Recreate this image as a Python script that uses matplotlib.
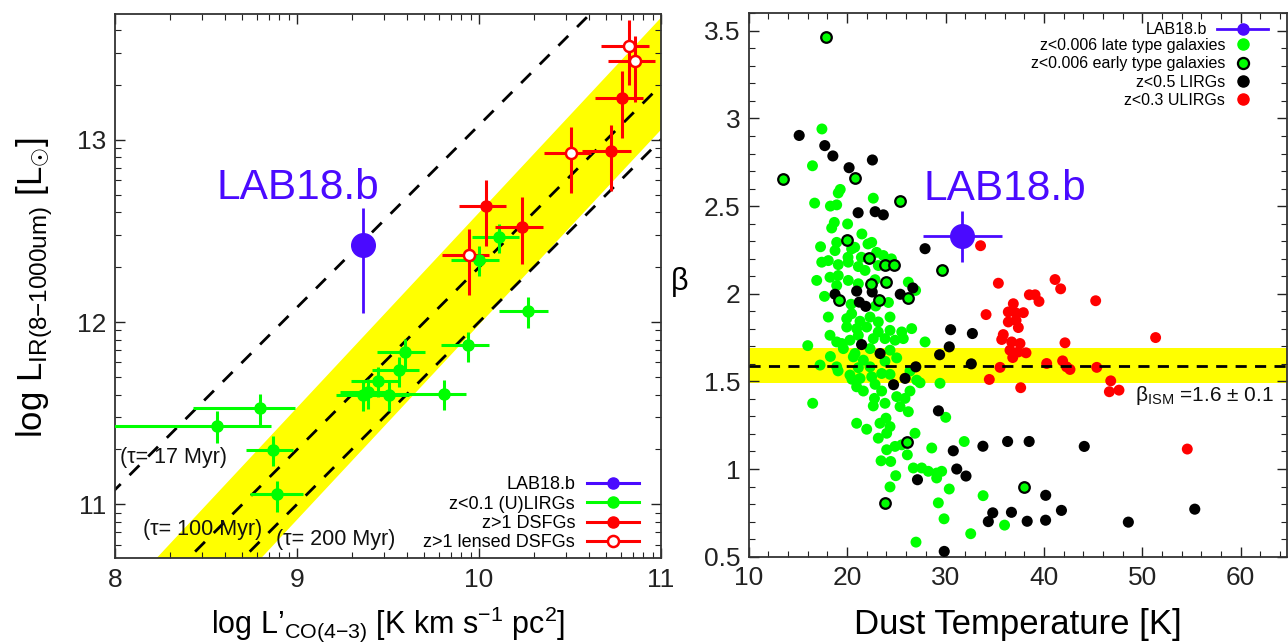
import numpy as np
import matplotlib
matplotlib.use('Agg')
import matplotlib.pyplot as plt
from matplotlib.lines import Line2D
from matplotlib.ticker import FixedLocator, MultipleLocator

plt.rcParams['font.family'] = ['Liberation Sans', 'DejaVu Sans']
plt.rcParams['mathtext.fontset'] = 'custom'
plt.rcParams['mathtext.rm'] = 'Liberation Sans'
plt.rcParams['mathtext.it'] = 'Liberation Sans:italic'
plt.rcParams['mathtext.bf'] = 'Liberation Sans:bold'
plt.rcParams['mathtext.sf'] = 'Liberation Sans'

GREEN = '#00FF00'
RED = '#FF0000'
BLUE = '#4A0AFF'
YELLOW = '#FFFF00'

# ---------------- left panel data ----------------
# LAB18.b
lab_lco = [9.363]
lab_lir = [12.424]
lab_lir_lo = [0.374]
lab_lir_hi = [0.203]

# z<0.1 (U)LIRGs
lirg_lco = [10.112, 9.998, 10.269, 9.939, 9.591, 9.563, 9.445, 9.388, 9.363, 9.506, 9.807, 8.794, 8.560, 8.869, 8.889]
lirg_lir = [12.466, 12.338, 12.062, 11.875, 11.833, 11.735, 11.678, 11.614, 11.601, 11.601, 11.605, 11.530, 11.431, 11.300, 11.058]
lirg_xlo = [0.15, 0.15, 0.157, 0.148, 0.15, 0.149, 0.15, 0.15, 0.15, 0.15, 0.32, 0.367, 0.60, 0.151, 0.15]
lirg_xhi = [0.11, 0.114, 0.108, 0.116, 0.114, 0.11, 0.11, 0.11, 0.11, 0.11, 0.12, 0.193, 0.295, 0.108, 0.145]
lirg_ylo = [0.088, 0.088, 0.095, 0.095, 0.095, 0.09, 0.09, 0.09, 0.09, 0.09, 0.09, 0.093, 0.094, 0.092, 0.102]
lirg_yhi = [0.073, 0.077, 0.073, 0.073, 0.075, 0.075, 0.075, 0.075, 0.075, 0.075, 0.075, 0.077, 0.079, 0.076, 0.068]

# z>1 DSFGs
dsfg_lco = [10.788, 10.723, 10.041, 10.238]
dsfg_lir = [13.229, 12.941, 12.634, 12.524]
dsfg_xlo = [0.153, 0.159, 0.153, 0.152]
dsfg_xhi = [0.112, 0.110, 0.110, 0.112]
dsfg_ylo = [0.220, 0.220, 0.219, 0.204]
dsfg_yhi = [0.146, 0.140, 0.143, 0.162]

# z>1 lensed DSFGs
lens_lco = [10.825, 10.859, 10.507, 9.947]
lens_lir = [13.517, 13.430, 12.927, 12.369]
lens_xlo = [0.155, 0.150, 0.150, 0.153]
lens_xhi = [0.110, 0.110, 0.110, 0.110]
lens_ylo = [0.215, 0.220, 0.219, 0.219]
lens_yhi = [0.141, 0.137, 0.143, 0.143]

# depletion-time lines  (log LIR = log L'CO + c)
tau_labels = ['(τ= 17 Myr)', '(τ= 100 Myr)', '(τ= 200 Myr)']
tau_offsets = [3.08, 2.30, 2.00]
# yellow band: log LIR = slope * log L'CO + [lo, hi]
band_slope = 1.07
band_lo = 1.285
band_hi = 1.90

# ---------------- right panel data ----------------
lab_td = [31.72]
lab_beta = [2.327]
lab_td_err = [4.04]
lab_beta_err = [0.147]

late_td = [17.44, 16.48, 19.3, 19.1, 16.7, 18.3, 18.94, 22.66, 18.7, 20.05, 18.43, 21.5, 17.3,
           18.94, 18.77, 20.46, 22.5, 23.0, 23.68, 24.5, 17.42, 18.09, 19.1, 20.12, 21.14, 21.82,
           23.17, 16.91, 18.26, 19.1, 18.94, 20.12, 21.14, 22.84, 26.22, 26.96, 17.7, 20.4, 22.9,
           24.2, 18.09, 19.96, 20.46, 21.31, 22.33, 23.17, 24.36, 19.96, 20.97, 21.99, 23.17, 24.36,
           25.55, 26.56, 18.26, 18.94, 20.29, 21.14, 22.66, 23.85, 24.87, 25.71, 16.0, 19.45, 19.62,
           20.8, 22.33, 24.36, 27.92, 18.3, 17.25, 18.94, 19.08, 20.63, 21.65, 21.14, 22.33, 23.85,
           25.04, 20.29, 20.49, 21.31, 22.5, 23.51, 24.36, 26.39, 20.97, 21.65, 22.84, 23.51, 27.41,
           26.39, 27.07, 29.44, 16.5, 22.78, 22.66, 23.85, 25.04, 25.88, 25.38, 26.22, 30.02, 20.97,
           21.99, 23.34, 23.95, 24.36, 23.17, 24.02, 26.9, 24.02, 24.87, 25.55, 28.6, 31.9, 23.45,
           24.43, 26.12, 26.73, 27.58, 28.25, 29.1, 29.61, 29.1, 24.94, 24.36, 30.38, 33.82, 29.27,
           29.85, 27.0, 36.0, 32.56, 20.77, 22.12, 20.09, 21.45]
late_beta = [2.94, 2.73, 2.595, 2.575, 2.517, 2.50, 2.507, 2.545, 2.407, 2.398, 2.375, 2.341, 2.268,
             2.293, 2.246, 2.256, 2.293, 2.236, 2.218, 2.199, 2.18, 2.189, 2.166, 2.18, 2.155, 2.133,
             2.161, 2.076, 2.094, 2.104, 2.047, 2.076, 2.057, 2.08, 2.066, 2.019, 1.985, 1.94, 1.93,
             1.95, 1.867, 1.858, 1.886, 1.843, 1.867, 1.839, 1.867, 1.81, 1.801, 1.81, 1.782, 1.791,
             1.782, 1.801, 1.763, 1.725, 1.735, 1.763, 1.744, 1.744, 1.735, 1.744, 1.704, 1.716, 1.687,
             1.659, 1.687, 1.678, 1.725, 1.642, 1.593, 1.583, 1.56, 1.64, 1.621, 1.578, 1.583, 1.615,
             1.634, 1.536, 1.512, 1.517, 1.526, 1.545, 1.54, 1.559, 1.469, 1.445, 1.483, 1.445, 1.492,
             1.445, 1.507, 1.489, 1.375, 1.403, 1.36, 1.375, 1.413, 1.403, 1.356, 1.327, 1.295, 1.261,
             1.227, 1.261, 1.29, 1.242, 1.176, 1.204, 1.204, 1.11, 1.129, 1.138, 1.12, 1.157, 1.047,
             1.043, 1.081, 1.006, 1.006, 0.987, 0.977, 0.987, 0.949, 0.962, 0.898, 0.886, 0.848, 0.807,
             0.716, 0.583, 0.68, 0.631, 2.265, 2.284, 2.208, 2.208]

early_td = [17.9, 13.5, 20.8, 25.4, 19.96, 22.2, 23.9, 24.75, 29.6, 22.45, 23.95, 19.2, 23.27, 26.15,
            26.05, 23.88, 38.0]
early_beta = [3.464, 2.657, 2.663, 2.53, 2.308, 2.202, 2.163, 2.163, 2.134, 2.055, 2.068, 1.962, 1.967,
              1.978, 1.157, 0.805, 0.898]

lirg05_td = [15.13, 17.73, 18.55, 20.2, 22.57, 21.12, 22.85, 23.68, 27.92, 18.77, 20.97, 22.55, 21.24,
             21.89, 25.4, 26.68, 21.47, 23.35, 26.98, 25.89, 24.72, 30.52, 32.73, 30.38, 29.4, 32.62,
             29.28, 30.79, 33.8, 36.31, 38.5, 44.1, 31.14, 32.08, 27.15, 40.18, 34.8, 34.35, 36.7,
             38.3, 40.17, 41.78, 48.58, 55.33, 29.87]
lirg05_beta = [2.903, 2.845, 2.786, 2.719, 2.763, 2.462, 2.468, 2.45, 2.257, 1.997, 2.015, 2.01, 1.952,
               1.928, 1.997, 2.033, 1.71, 1.659, 1.583, 1.517, 1.481, 1.795, 1.773, 1.697, 1.652, 1.6,
               1.332, 1.104, 1.13, 1.157, 1.157, 1.129, 1.0, 0.96, 0.939, 0.85, 0.75, 0.70, 0.753,
               0.702, 0.708, 0.764, 0.697, 0.771, 0.53]

ulirg_td = [33.56, 35.37, 41.13, 41.7, 38.52, 39.1, 39.5, 45.26, 34.12, 36.89, 36.38, 37.17, 37.91,
            36.38, 37.17, 37.4, 35.87, 35.71, 36.72, 37.57, 36.55, 37.4, 38.18, 36.83, 42.14, 35.54,
            34.45, 37.64, 40.28, 41.9, 42.3, 42.65, 45.37, 46.79, 46.65, 47.63, 51.35, 54.57]
ulirg_beta = [2.274, 2.06, 2.081, 2.028, 1.994, 1.994, 1.956, 1.96, 1.881, 1.943, 1.896, 1.89, 1.892,
              1.839, 1.848, 1.807, 1.767, 1.739, 1.725, 1.716, 1.678, 1.668, 1.663, 1.636, 1.72, 1.58,
              1.511, 1.464, 1.602, 1.617, 1.583, 1.568, 1.58, 1.503, 1.441, 1.45, 1.75, 1.114]

beta_ism = 1.59
beta_ism_err = 0.1

# ---------------- figure ----------------
fig = plt.figure(figsize=(12.88, 6.44), dpi=100)
ax1 = fig.add_axes([0.0893, 0.1335, 0.4239, 0.8447])
ax2 = fig.add_axes([0.5813, 0.1356, 0.4179, 0.8438])

# ---- left panel ----
xg = np.array([7.0, 12.0])
ax1.fill_between(xg, band_slope * xg + band_lo, band_slope * xg + band_hi,
                 color=YELLOW, lw=0, zorder=1)
for off in tau_offsets:
    ax1.plot(xg, xg + off, color='k', lw=2, ls=(0, (5, 4.5)), zorder=2)

eb_kw = dict(fmt='o', ms=8, elinewidth=2.2, capsize=0, zorder=4)
ax1.errorbar(lirg_lco, lirg_lir, xerr=[lirg_xlo, lirg_xhi], yerr=[lirg_ylo, lirg_yhi],
             color=GREEN, **eb_kw)
ax1.errorbar(dsfg_lco, dsfg_lir, xerr=[dsfg_xlo, dsfg_xhi], yerr=[dsfg_ylo, dsfg_yhi],
             color=RED, **eb_kw)
ax1.errorbar(lens_lco, lens_lir, xerr=[lens_xlo, lens_xhi], yerr=[lens_ylo, lens_yhi],
             color=RED, mfc='white', mec=RED, mew=1.8, **eb_kw)
ax1.errorbar(lab_lco, lab_lir, yerr=[lab_lir_lo, lab_lir_hi], fmt='o', ms=17, color=BLUE,
             elinewidth=2, capsize=0, zorder=6)

ax1.text(8.56, 12.675, 'LAB18.b', color=BLUE, fontsize=30.5, ha='left', va='baseline')
tau_pos = [(8.027, 11.228), (8.152, 10.833), (8.885, 10.778)]
for lbl, (tx, ty) in zip(tau_labels, tau_pos):
    ax1.text(tx, ty, lbl, fontsize=15.5, ha='left', va='baseline', color='#111111')

ax1.set_xlim(8, 11)
ax1.set_ylim(10.705, 13.69)
ax1.xaxis.set_major_locator(FixedLocator([8, 9, 10, 11]))
ax1.yaxis.set_major_locator(FixedLocator([11, 12, 13]))
ax1.xaxis.set_minor_locator(FixedLocator([n + np.log10(k) for n in (8, 9, 10) for k in range(2, 10)]))
ax1.yaxis.set_minor_locator(FixedLocator([n + np.log10(k) for n in (10, 11, 12, 13) for k in range(2, 10)]))

handles1 = [Line2D([], [], color=BLUE, marker='o', ms=8, lw=2.2),
            Line2D([], [], color=GREEN, marker='o', ms=8, lw=2.2),
            Line2D([], [], color=RED, marker='o', ms=8, lw=2.2),
            Line2D([], [], color=RED, marker='o', ms=8, lw=2.2, mfc='white', mew=1.8)]
labels1 = ['LAB18.b', 'z<0.1 (U)LIRGs', 'z>1 DSFGs', 'z>1 lensed DSFGs']
ax1.legend(handles1, labels1, loc='center right', bbox_to_anchor=(0.96, 0.081),
           frameon=False, markerfirst=False, fontsize=13, handlelength=2.9,
           handletextpad=0.65, labelspacing=0.13, borderpad=0.0, borderaxespad=0)

ax1.text(0.5, -0.138, "log L’$_{\\mathrm{CO(4{-}3)}}$ [K km s$^{\\mathrm{{-}1}}$ pc$^{\\mathrm{2}}$]",
         transform=ax1.transAxes, ha='center', va='baseline', fontsize=22)
ax1.text(-0.1465, 0.498, "log L$_{\\mathrm{IR(8{-}1000um)}}$ [L$_{\\odot}$]",
         transform=ax1.transAxes, ha='center', va='center', rotation=90, fontsize=25)

# ---- right panel ----
ax2.axhspan(beta_ism - beta_ism_err, beta_ism + beta_ism_err, color=YELLOW, lw=0, zorder=1)
ax2.axhline(beta_ism, color='k', lw=2, ls=(0, (4, 3)), zorder=6)
ax2.scatter(late_td, late_beta, s=62, c=GREEN, edgecolors='none', zorder=2)
ax2.scatter(lirg05_td, lirg05_beta, s=64, c='k', edgecolors='none', zorder=3)
ax2.scatter(early_td, early_beta, s=58, c=GREEN, edgecolors='k', linewidths=1.6, zorder=4)
ax2.scatter(ulirg_td, ulirg_beta, s=62, c=RED, edgecolors='none', zorder=5)
ax2.errorbar(lab_td, lab_beta, xerr=lab_td_err, yerr=lab_beta_err, fmt='o', ms=17, color=BLUE,
             elinewidth=2, capsize=0, zorder=7)

ax2.text(27.72, 2.536, 'LAB18.b', color=BLUE, fontsize=30.5, ha='left', va='baseline')
ax2.text(63.35, 1.388, 'β$_{\\mathrm{ISM}}$ =1.6 ± 0.1', fontsize=15, ha='right', va='baseline',
         color='#111111')

ax2.set_xlim(10, 64.7)
ax2.set_ylim(0.5, 3.6)
ax2.xaxis.set_major_locator(MultipleLocator(10))
ax2.xaxis.set_minor_locator(MultipleLocator(2))
ax2.yaxis.set_major_locator(MultipleLocator(0.5))
ax2.yaxis.set_minor_locator(MultipleLocator(0.1))
ax2.set_yticks([0.5, 1, 1.5, 2, 2.5, 3, 3.5])
ax2.set_yticklabels(['0.5', '1', '1.5', '2', '2.5', '3', '3.5'])

# legend: LAB18.b entry (long line) + four scatter entries
leg_a = ax2.legend([Line2D([], [], color=BLUE, marker='o', ms=8, lw=2)], ['LAB18.b'],
                   loc='center right', bbox_to_anchor=(0.965, 0.9693), frameon=False,
                   markerfirst=False, fontsize=11.5, handlelength=3.2, handletextpad=0.65,
                   borderpad=0.0, borderaxespad=0)
ax2.add_artist(leg_a)
handles2 = [Line2D([], [], ls='none', color=GREEN, marker='o', ms=8),
            Line2D([], [], ls='none', color=GREEN, marker='o', ms=8, mec='k', mew=1.6),
            Line2D([], [], ls='none', color='k', marker='o', ms=8),
            Line2D([], [], ls='none', color=RED, marker='o', ms=8)]
labels2 = ['z<0.006 late type galaxies', 'z<0.006 early type galaxies',
           'z<0.5 LIRGs', 'z<0.3 ULIRGs']
ax2.legend(handles2, labels2, loc='center right', bbox_to_anchor=(0.9424, 0.890),
           frameon=False, markerfirst=False, fontsize=11.5, handlelength=1.6,
           handletextpad=0.33, labelspacing=0.21, borderpad=0.0, borderaxespad=0)

ax2.text(0.5, -0.142, 'Dust Temperature [K]', transform=ax2.transAxes, ha='center',
         va='baseline', fontsize=25)
ax2.text(-0.1276, 0.5055, 'β', transform=ax2.transAxes, ha='center', va='center', fontsize=22)

for ax in (ax1, ax2):
    ax.tick_params(which='both', direction='in', top=True, right=True, labelsize=19,
                   colors='#222222')
    ax.tick_params(axis='x', pad=7)
    ax.tick_params(axis='y', pad=6)
    ax.tick_params(which='major', length=7, width=1)
    ax.tick_params(which='minor', length=4, width=0.8)
    for sp in ax.spines.values():
        sp.set_linewidth(1.3)
        sp.set_color('#333333')

fig.savefig('out.png', dpi=100)
